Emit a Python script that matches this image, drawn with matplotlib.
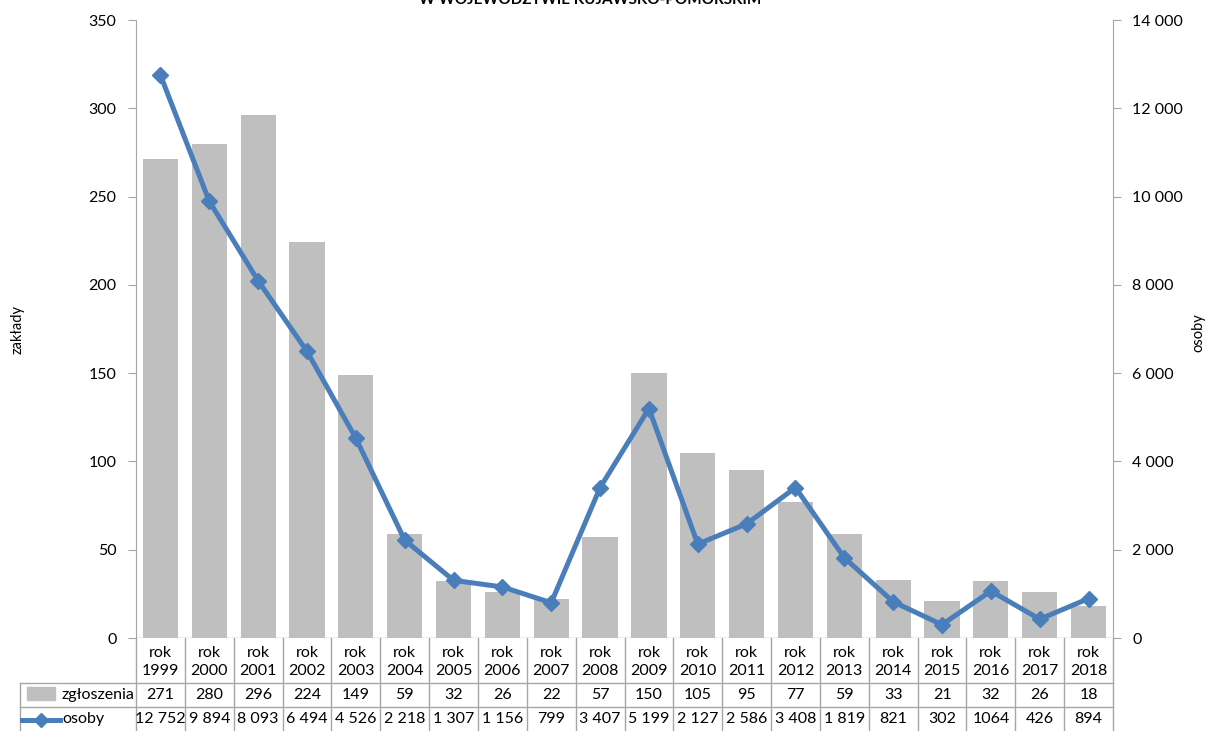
import matplotlib.pyplot as plt
from matplotlib.transforms import blended_transform_factory
from matplotlib.ticker import FuncFormatter, MultipleLocator
from matplotlib.lines import Line2D

plt.rcParams['font.family'] = ['Lato', 'DejaVu Sans']

years = [str(y) for y in range(1999, 2019)]
zgloszenia = [271, 280, 296, 224, 149, 59, 32, 26, 22, 57,
              150, 105, 95, 77, 59, 33, 21, 32, 26, 18]
osoby = [12752, 9894, 8093, 6494, 4526, 2218, 1307, 1156, 799, 3407,
         5199, 2127, 2586, 3408, 1819, 821, 302, 1064, 426, 894]
osoby_labels = ['12 752', '9 894', '8 093', '6 494', '4 526', '2 218', '1 307',
                '1 156', '799', '3 407', '5 199', '2 127', '2 586', '3 408',
                '1 819', '821', '302', '1064', '426', '894']

W, H = 1205, 731
bar_color = '#BFBFBF'
line_color = '#4A7EBB'
grid_color = '#A6A6A6'
fs = 11.5

fig = plt.figure(figsize=(W / 100, H / 100), dpi=100)
ax = fig.add_axes([136 / W, 1 - 638 / H, (1113 - 136) / W, (638 - 20) / H])
ax2 = ax.twinx()

x = list(range(len(years)))
ax.bar(x, zgloszenia, width=0.72, color=bar_color, zorder=2)
ax2.plot(x, osoby, color=line_color, lw=3.6, marker='D', markersize=8,
         zorder=3)

ax.set_xlim(-0.5, len(years) - 0.5)
ax.set_ylim(0, 350)
ax.yaxis.set_major_locator(MultipleLocator(50))
ax2.set_ylim(0, 14000)
ax2.yaxis.set_major_locator(MultipleLocator(2000))
ax2.yaxis.set_major_formatter(FuncFormatter(lambda v, p: f"{int(v):,}".replace(",", " ")))

ax.set_xticks([])
for a in (ax, ax2):
    for s in a.spines.values():
        s.set_visible(False)
    a.tick_params(axis='y', labelsize=fs, length=6, color=grid_color, pad=8)
ax.spines['left'].set_visible(True)
ax.spines['left'].set_color(grid_color)
ax2.spines['right'].set_visible(True)
ax2.spines['right'].set_color(grid_color)
ax.axhline(0, color=grid_color, lw=1, zorder=1)

fig.text(18 / W, 1 - 330 / H, 'zakłady', rotation=90, ha='center', va='center', fontsize=10.5)
fig.text(1198 / W, 1 - 333 / H, 'osoby', rotation=90, ha='center', va='center', fontsize=10.5)
# title is cut by the top edge, as in the source image
fig.text(590 / W, 1 - 4 / H, 'W WOJEWÓDZTWIE KUJAWSKO-POMORSKIM', ha='center',
         va='baseline', fontsize=11, fontweight='bold')

# data table under the chart
tr = blended_transform_factory(ax.transData, fig.transFigure)
px = lambda v: 1 - v / H
y_axis, y_r1, y_r2, y_bot = px(638), px(683), px(707), px(731)
lc = '#A6A6A6'
for i in range(len(years) + 1):
    ax.add_line(Line2D([i - 0.5, i - 0.5], [y_axis, y_bot], transform=tr,
                       color=lc, lw=1, clip_on=False))
for yy in (y_r1, y_r2):
    fig.add_artist(Line2D([20 / W, 1113 / W], [yy, yy], color=lc, lw=1))
fig.add_artist(Line2D([20 / W, 20 / W], [y_r1, y_bot], color=lc, lw=1))

for i, yr in enumerate(years):
    ax.text(i, px(662), 'rok\n' + yr, transform=tr, ha='center', va='center',
            fontsize=fs, linespacing=1.4)
    ax.text(i, px(695), str(zgloszenia[i]), transform=tr, ha='center',
            va='center', fontsize=fs)
    ax.text(i, px(719), osoby_labels[i], transform=tr, ha='center',
            va='center', fontsize=fs)

# legend keys in the table
fig.add_artist(plt.Rectangle((27 / W, px(700)), 28 / W, 13 / H, color=bar_color))
fig.text(61 / W, px(695), 'zgłoszenia', ha='left', va='center', fontsize=fs)
fig.add_artist(Line2D([22 / W, 60 / W], [px(720), px(720)], color=line_color, lw=3.6))
fig.add_artist(Line2D([41 / W], [px(720)], color=line_color, marker='D', markersize=7))
fig.text(62 / W, px(719), 'osoby', ha='left', va='center', fontsize=fs)

fig.savefig('out.png', dpi=100)
